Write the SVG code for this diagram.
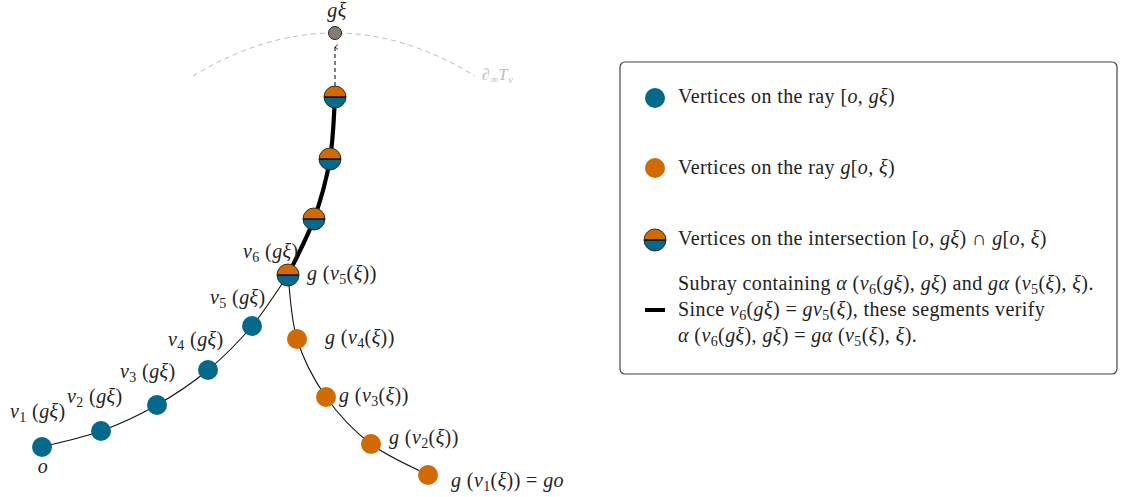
<svg xmlns="http://www.w3.org/2000/svg" xmlns:xlink="http://www.w3.org/1999/xlink" width="1121" height="497" viewBox="0 0 1121 497">
<style>
text{font-family:"Liberation Serif","DejaVu Serif",serif;font-size:20px;letter-spacing:0.4px;fill:#222}
.i{font-style:italic}
.s{font-size:14px}
.blue{fill:#05698C}
.orange{fill:#D26A04}
.thin{fill:none;stroke:#111;stroke-width:1.1}
.thick{fill:none;stroke:#000;stroke-width:4.2}
.lbl{font-size:20px}
</style>
<defs>
<g id="half">
<path d="M-11,0 A11,11 0 0 1 11,0 Z" class="orange"/>
<path d="M-11,0 A11,11 0 0 0 11,0 Z" class="blue"/>
<line x1="-11" y1="0" x2="11" y2="0" stroke="#000" stroke-width="1.3"/>
<circle r="11" fill="none" stroke="#222" stroke-width="0.9"/>
</g>
<marker id="arr" viewBox="0 0 10 10" refX="5" refY="2" markerWidth="6" markerHeight="6" orient="auto-start-reverse" markerUnits="userSpaceOnUse">
<path d="M1,7 L5,2 L9,7" fill="none" stroke="#000" stroke-width="1.3"/>
</marker>
</defs>

<g id="boundary">
<path d="M193,76 Q335,-10 475,76" fill="none" stroke="#bbb" stroke-width="1" stroke-dasharray="5,4"/>
<text x="482" y="80" style="fill:#bbb;font-size:16px" class="i">∂<tspan dy="3" style="font-size:11px">∞</tspan><tspan dy="-3">T</tspan><tspan dy="3" style="font-size:11px">v</tspan></text>
</g>

<g id="connectors">
<path class="thin" d="M42,447 C51.8,444.3 81.8,438 101,431 C120.2,424 139.2,415.2 157,405 C174.8,394.8 192.2,383.2 208,370 C223.8,356.8 238.7,341.8 252,326 C265.3,310.2 282,283.5 288,275"/>
<path class="thin" d="M288,275 C289.5,285.7 290.7,318.7 297,339 C303.3,359.3 313.7,379.5 326,397 C338.3,414.5 354,431 371,444 C388,457 418.5,469.8 428,475"/>
<path class="thick" d="M288,275 C292.3,265.7 307,238.3 314,219 C321,199.7 326.5,179.3 330,159 C333.5,138.7 334.2,107.3 335,97"/>
<line x1="335" y1="86" x2="335" y2="47" stroke="#000" stroke-width="1" stroke-dasharray="4,3" marker-end="url(#arr)"/>
</g>

<g id="n-gxi">
<circle cx="335" cy="33" r="6.5" fill="#857D70" stroke="#222" stroke-width="1"/>
<text x="337" y="17" text-anchor="middle" class="i lbl">gξ</text>
</g>
<g id="n-i4"><use xlink:href="#half" x="335" y="97"/></g>
<g id="n-i3"><use xlink:href="#half" x="330" y="159"/></g>
<g id="n-i2"><use xlink:href="#half" x="314" y="219"/></g>
<g id="n-i1"><use xlink:href="#half" x="288" y="275"/>
<text x="243" y="258" class="lbl"><tspan class="i">v</tspan><tspan class="s" dy="4">6</tspan><tspan dy="-4"> (</tspan><tspan class="i">gξ</tspan>)</text>
<text x="307" y="280" class="lbl"><tspan class="i">g</tspan> (<tspan class="i">v</tspan><tspan class="s" dy="4">5</tspan><tspan dy="-4">(</tspan><tspan class="i">ξ</tspan>))</text>
</g>

<g id="n-b5"><circle cx="252" cy="326" r="10" class="blue"/>
<text x="210" y="304" class="lbl"><tspan class="i">v</tspan><tspan class="s" dy="4">5</tspan><tspan dy="-4"> (</tspan><tspan class="i">gξ</tspan>)</text></g>
<g id="n-b4"><circle cx="208" cy="370" r="10" class="blue"/>
<text x="168" y="346" class="lbl"><tspan class="i">v</tspan><tspan class="s" dy="4">4</tspan><tspan dy="-4"> (</tspan><tspan class="i">gξ</tspan>)</text></g>
<g id="n-b3"><circle cx="157" cy="405" r="10" class="blue"/>
<text x="120" y="378" class="lbl"><tspan class="i">v</tspan><tspan class="s" dy="4">3</tspan><tspan dy="-4"> (</tspan><tspan class="i">gξ</tspan>)</text></g>
<g id="n-b2"><circle cx="101" cy="431" r="10" class="blue"/>
<text x="67" y="403" class="lbl"><tspan class="i">v</tspan><tspan class="s" dy="4">2</tspan><tspan dy="-4"> (</tspan><tspan class="i">gξ</tspan>)</text></g>
<g id="n-o"><circle cx="42" cy="447" r="10" class="blue"/>
<text x="10" y="418" class="lbl"><tspan class="i">v</tspan><tspan class="s" dy="4">1</tspan><tspan dy="-4"> (</tspan><tspan class="i">gξ</tspan>)</text>
<text x="43" y="473" text-anchor="middle" class="i lbl">o</text></g>

<g id="n-o4"><circle cx="297" cy="339" r="10" class="orange"/>
<text x="325" y="344" class="lbl"><tspan class="i">g</tspan> (<tspan class="i">v</tspan><tspan class="s" dy="4">4</tspan><tspan dy="-4">(</tspan><tspan class="i">ξ</tspan>))</text></g>
<g id="n-o3"><circle cx="326" cy="397" r="10" class="orange"/>
<text x="339" y="402" class="lbl"><tspan class="i">g</tspan> (<tspan class="i">v</tspan><tspan class="s" dy="4">3</tspan><tspan dy="-4">(</tspan><tspan class="i">ξ</tspan>))</text></g>
<g id="n-o2"><circle cx="371" cy="444" r="10" class="orange"/>
<text x="389" y="444" class="lbl"><tspan class="i">g</tspan> (<tspan class="i">v</tspan><tspan class="s" dy="4">2</tspan><tspan dy="-4">(</tspan><tspan class="i">ξ</tspan>))</text></g>
<g id="n-o1"><circle cx="428" cy="475" r="10" class="orange"/>
<text x="451" y="487" class="lbl"><tspan class="i">g</tspan> (<tspan class="i">v</tspan><tspan class="s" dy="4">1</tspan><tspan dy="-4">(</tspan><tspan class="i">ξ</tspan>)) = <tspan class="i">go</tspan></text></g>

<g id="legend">
<rect x="620" y="62" width="497" height="312" rx="5" fill="#fff" stroke="#444" stroke-width="1.2"/>
<circle cx="655" cy="98" r="10" class="blue"/>
<text x="678" y="103">Vertices on the ray [<tspan class="i">o</tspan>, <tspan class="i">gξ</tspan>)</text>
<circle cx="655" cy="168" r="10" class="orange"/>
<text x="678" y="174">Vertices on the ray <tspan class="i">g</tspan>[<tspan class="i">o</tspan>, <tspan class="i">ξ</tspan>)</text>
<use xlink:href="#half" x="655" y="240"/>
<text x="678" y="245">Vertices on the intersection [<tspan class="i">o</tspan>, <tspan class="i">gξ</tspan>) ∩ <tspan class="i">g</tspan>[<tspan class="i">o</tspan>, <tspan class="i">ξ</tspan>)</text>
<line x1="645" y1="310" x2="665" y2="310" stroke="#000" stroke-width="4"/>
<text x="678" y="290">Subray containing <tspan class="i">α</tspan> (<tspan class="i">v</tspan><tspan class="s" dy="4">6</tspan><tspan dy="-4">(</tspan><tspan class="i">gξ</tspan>), <tspan class="i">gξ</tspan>) and <tspan class="i">gα</tspan> (<tspan class="i">v</tspan><tspan class="s" dy="4">5</tspan><tspan dy="-4">(</tspan><tspan class="i">ξ</tspan>), <tspan class="i">ξ</tspan>).</text>
<text x="678" y="316">Since <tspan class="i">v</tspan><tspan class="s" dy="4">6</tspan><tspan dy="-4">(</tspan><tspan class="i">gξ</tspan>) = <tspan class="i">gv</tspan><tspan class="s" dy="4">5</tspan><tspan dy="-4">(</tspan><tspan class="i">ξ</tspan>), these segments verify</text>
<text x="678" y="342"><tspan class="i">α</tspan> (<tspan class="i">v</tspan><tspan class="s" dy="4">6</tspan><tspan dy="-4">(</tspan><tspan class="i">gξ</tspan>), <tspan class="i">gξ</tspan>) = <tspan class="i">gα</tspan> (<tspan class="i">v</tspan><tspan class="s" dy="4">5</tspan><tspan dy="-4">(</tspan><tspan class="i">ξ</tspan>), <tspan class="i">ξ</tspan>).</text>
</g>
</svg>
